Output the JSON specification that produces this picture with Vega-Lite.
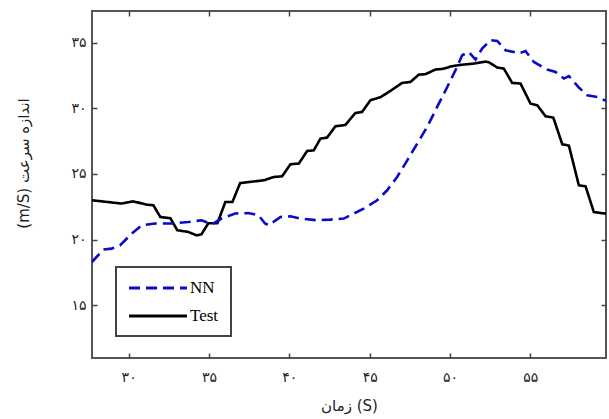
{
  "$schema": "https://vega.github.io/schema/vega-lite/v6.json",
  "width": 514,
  "height": 347,
  "autosize": {"type": "none"},
  "padding": {"left": 92, "top": 11, "right": 3, "bottom": 61},
  "background": "white",
  "config": {
    "view": {"stroke": "#555", "strokeWidth": 2},
    "axis": {"grid": false, "domain": false, "tickColor": "#444", "tickWidth": 1.5, "tickSize": -5, "labelColor": "#222", "titleColor": "#222", "labelFontSize": 14, "labelFont": "DejaVu Sans", "titleFont": "DejaVu Sans", "titleFontSize": 15, "titleFontWeight": "normal"},
    "legend": {"title": null, "orient": "none", "legendX": 24, "legendY": 256, "strokeColor": "#444", "padding": 12, "symbolType": "M-4,0H4", "symbolSize": 210, "symbolOffset": 21, "symbolStrokeWidth": 3, "labelFont": "Liberation Serif", "labelFontSize": 17, "labelColor": "#000", "labelOffset": 23, "rowPadding": 11}
  },
  "data": {"values": [
    {"t": 27.72, "v": 23.0, "s": "Test"},
    {"t": 29.55, "v": 22.75, "s": "Test"},
    {"t": 30.29, "v": 22.92, "s": "Test"},
    {"t": 31.1, "v": 22.67, "s": "Test"},
    {"t": 31.54, "v": 22.62, "s": "Test"},
    {"t": 31.97, "v": 21.73, "s": "Test"},
    {"t": 32.6, "v": 21.63, "s": "Test"},
    {"t": 33.03, "v": 20.72, "s": "Test"},
    {"t": 33.72, "v": 20.59, "s": "Test"},
    {"t": 34.22, "v": 20.33, "s": "Test"},
    {"t": 34.53, "v": 20.41, "s": "Test"},
    {"t": 34.96, "v": 21.25, "s": "Test"},
    {"t": 35.52, "v": 21.25, "s": "Test"},
    {"t": 36.02, "v": 22.87, "s": "Test"},
    {"t": 36.46, "v": 22.87, "s": "Test"},
    {"t": 36.94, "v": 24.31, "s": "Test"},
    {"t": 38.41, "v": 24.52, "s": "Test"},
    {"t": 39.03, "v": 24.77, "s": "Test"},
    {"t": 39.55, "v": 24.82, "s": "Test"},
    {"t": 40.07, "v": 25.74, "s": "Test"},
    {"t": 40.59, "v": 25.79, "s": "Test"},
    {"t": 41.11, "v": 26.75, "s": "Test"},
    {"t": 41.52, "v": 26.8, "s": "Test"},
    {"t": 41.94, "v": 27.69, "s": "Test"},
    {"t": 42.35, "v": 27.77, "s": "Test"},
    {"t": 42.87, "v": 28.63, "s": "Test"},
    {"t": 43.49, "v": 28.73, "s": "Test"},
    {"t": 44.11, "v": 29.64, "s": "Test"},
    {"t": 44.53, "v": 29.72, "s": "Test"},
    {"t": 45.05, "v": 30.61, "s": "Test"},
    {"t": 45.67, "v": 30.84, "s": "Test"},
    {"t": 46.29, "v": 31.32, "s": "Test"},
    {"t": 47.02, "v": 31.93, "s": "Test"},
    {"t": 47.54, "v": 32.0, "s": "Test"},
    {"t": 48.06, "v": 32.56, "s": "Test"},
    {"t": 48.47, "v": 32.59, "s": "Test"},
    {"t": 49.1, "v": 32.95, "s": "Test"},
    {"t": 49.51, "v": 32.99, "s": "Test"},
    {"t": 50.14, "v": 33.2, "s": "Test"},
    {"t": 50.65, "v": 33.3, "s": "Test"},
    {"t": 51.48, "v": 33.4, "s": "Test"},
    {"t": 52.21, "v": 33.55, "s": "Test"},
    {"t": 52.42, "v": 33.5, "s": "Test"},
    {"t": 52.94, "v": 33.1, "s": "Test"},
    {"t": 53.35, "v": 33.02, "s": "Test"},
    {"t": 53.87, "v": 31.93, "s": "Test"},
    {"t": 54.39, "v": 31.88, "s": "Test"},
    {"t": 55.01, "v": 30.36, "s": "Test"},
    {"t": 55.43, "v": 30.23, "s": "Test"},
    {"t": 55.95, "v": 29.39, "s": "Test"},
    {"t": 56.43, "v": 29.29, "s": "Test"},
    {"t": 56.99, "v": 27.26, "s": "Test"},
    {"t": 57.4, "v": 27.16, "s": "Test"},
    {"t": 58.02, "v": 24.14, "s": "Test"},
    {"t": 58.44, "v": 24.06, "s": "Test"},
    {"t": 58.95, "v": 22.11, "s": "Test"},
    {"t": 59.37, "v": 22.03, "s": "Test"},
    {"t": 59.71, "v": 21.99, "s": "Test"},
    {"t": 27.72, "v": 18.3, "s": "NN"},
    {"t": 28.42, "v": 19.25, "s": "NN"},
    {"t": 28.94, "v": 19.32, "s": "NN"},
    {"t": 29.46, "v": 19.57, "s": "NN"},
    {"t": 30.19, "v": 20.46, "s": "NN"},
    {"t": 30.81, "v": 21.1, "s": "NN"},
    {"t": 31.64, "v": 21.23, "s": "NN"},
    {"t": 32.68, "v": 21.23, "s": "NN"},
    {"t": 33.72, "v": 21.35, "s": "NN"},
    {"t": 34.55, "v": 21.48, "s": "NN"},
    {"t": 35.17, "v": 21.17, "s": "NN"},
    {"t": 35.79, "v": 21.61, "s": "NN"},
    {"t": 36.63, "v": 21.99, "s": "NN"},
    {"t": 37.45, "v": 22.03, "s": "NN"},
    {"t": 38.08, "v": 21.86, "s": "NN"},
    {"t": 38.49, "v": 21.23, "s": "NN"},
    {"t": 38.72, "v": 21.1, "s": "NN"},
    {"t": 39.45, "v": 21.73, "s": "NN"},
    {"t": 40.07, "v": 21.78, "s": "NN"},
    {"t": 40.69, "v": 21.61, "s": "NN"},
    {"t": 41.73, "v": 21.48, "s": "NN"},
    {"t": 42.56, "v": 21.53, "s": "NN"},
    {"t": 43.39, "v": 21.61, "s": "NN"},
    {"t": 43.8, "v": 21.86, "s": "NN"},
    {"t": 44.63, "v": 22.37, "s": "NN"},
    {"t": 45.47, "v": 23.0, "s": "NN"},
    {"t": 46.09, "v": 23.76, "s": "NN"},
    {"t": 46.71, "v": 24.77, "s": "NN"},
    {"t": 47.34, "v": 26.04, "s": "NN"},
    {"t": 47.96, "v": 27.31, "s": "NN"},
    {"t": 48.58, "v": 28.58, "s": "NN"},
    {"t": 49.2, "v": 30.1, "s": "NN"},
    {"t": 49.83, "v": 31.62, "s": "NN"},
    {"t": 50.34, "v": 32.89, "s": "NN"},
    {"t": 50.76, "v": 34.03, "s": "NN"},
    {"t": 51.17, "v": 34.28, "s": "NN"},
    {"t": 51.59, "v": 33.71, "s": "NN"},
    {"t": 52.0, "v": 34.54, "s": "NN"},
    {"t": 52.52, "v": 35.18, "s": "NN"},
    {"t": 52.94, "v": 35.12, "s": "NN"},
    {"t": 53.46, "v": 34.41, "s": "NN"},
    {"t": 53.97, "v": 34.28, "s": "NN"},
    {"t": 54.28, "v": 34.16, "s": "NN"},
    {"t": 54.7, "v": 34.36, "s": "NN"},
    {"t": 55.22, "v": 33.52, "s": "NN"},
    {"t": 56.05, "v": 32.95, "s": "NN"},
    {"t": 56.57, "v": 32.76, "s": "NN"},
    {"t": 57.09, "v": 32.26, "s": "NN"},
    {"t": 57.4, "v": 32.44, "s": "NN"},
    {"t": 58.02, "v": 31.58, "s": "NN"},
    {"t": 58.54, "v": 30.99, "s": "NN"},
    {"t": 59.17, "v": 30.86, "s": "NN"},
    {"t": 59.71, "v": 30.56, "s": "NN"}
  ]},
  "layer": [
    {
      "mark": {"type": "line", "strokeWidth": 2.6, "clip": true},
      "encoding": {
        "x": {"field": "t", "type": "quantitative", "scale": {"domain": [27.72, 59.71], "nice": false, "zero": false},
          "axis": {"orient": "bottom", "values": [30, 35, 40, 45, 50, 55], "labelPadding": 17, "labelExpr": "replace(replace(replace(replace(replace(replace(datum.label, regexp('0','g'), '۰'), regexp('1','g'), '۱'), regexp('2','g'), '۲'), regexp('3','g'), '۳'), regexp('4','g'), '۴'), regexp('5','g'), '۵')",
            "title": "زمان (S)", "titleY": 47, "titleBaseline": "middle"}},
        "y": {"field": "v", "type": "quantitative", "scale": {"domain": [11, 37.4], "nice": false, "zero": false},
          "axis": {"orient": "left", "values": [15, 20, 25, 30, 35], "labelPadding": 11, "labelExpr": "replace(replace(replace(replace(replace(replace(datum.label, regexp('0','g'), '۰'), regexp('1','g'), '۱'), regexp('2','g'), '۲'), regexp('3','g'), '۳'), regexp('4','g'), '۴'), regexp('5','g'), '۵')",
            "title": "(m/S) اندازه سرعت", "titleAngle": -90, "titleX": -69, "titleY": 152, "titleAlign": "center", "titleBaseline": "middle"}},
        "color": {"field": "s", "type": "nominal", "scale": {"domain": ["NN", "Test"], "range": ["#0a0ac8", "#000000"]},
          "legend": {"encode": {"legend": {"update": {"strokeWidth": {"value": 2}}}}}},
        "strokeDash": {"field": "s", "type": "nominal", "scale": {"domain": ["NN", "Test"], "range": [[11, 6], [1, 0]]},
          "legend": {"encode": {"legend": {"update": {"strokeWidth": {"value": 2}}}}}}
      }
    },
    {
      "mark": {"type": "line", "opacity": 0},
      "encoding": {
        "x": {"field": "t", "type": "quantitative", "axis": {"orient": "top", "values": [30, 35, 40, 45, 50, 55], "labels": false, "title": null}},
        "y": {"field": "v", "type": "quantitative", "axis": {"orient": "right", "values": [15, 20, 25, 30, 35], "labels": false, "title": null}},
        "detail": {"field": "s", "type": "nominal"}
      }
    }
  ],
  "resolve": {"axis": {"x": "independent", "y": "independent"}}
}
